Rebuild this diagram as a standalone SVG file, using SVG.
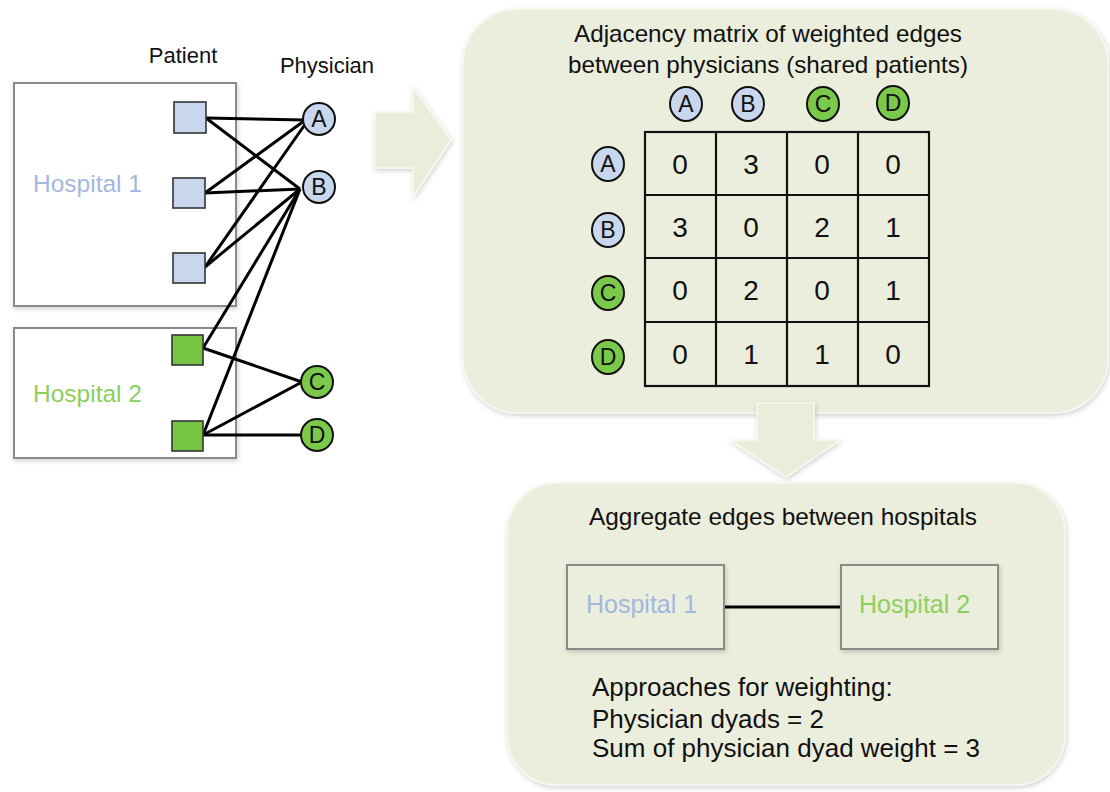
<svg xmlns="http://www.w3.org/2000/svg" width="1110" height="792" viewBox="0 0 1110 792">
<defs>
  <filter id="sh" x="-10%" y="-10%" width="120%" height="120%">
    <feDropShadow dx="1" dy="2" stdDeviation="2.5" flood-color="#000" flood-opacity="0.18"/>
  </filter>
</defs>
<style>
  text { font-family: "Liberation Sans", Arial, sans-serif; fill: #111; }
  .panel { fill: #ebeedc; stroke: #f7f8f0; stroke-width: 1.5; filter: url(#sh); }
  .arrow { fill: #e9edd9; stroke: #f8f9f2; stroke-width: 1.5; filter: url(#sh); }
  .hbox { fill: #fff; stroke: #8a8a8a; stroke-width: 2; filter: url(#sh); }
  .hbox2 { fill: #ebeedc; stroke: #8a8a8a; stroke-width: 2; filter: url(#sh); }
  .sqb { fill: #c8d6ee; stroke: #333; stroke-width: 1.6; }
  .sqg { fill: #76c442; stroke: #333; stroke-width: 1.6; }
  .cb { fill: #c8d6ee; stroke: #111; stroke-width: 2; }
  .cg { fill: #7ac94a; stroke: #111; stroke-width: 2; }
  .lbl { font-size: 23px; text-anchor: middle; }
  .edge { stroke: #000; stroke-width: 3; fill: none; }
  .grid { stroke: #111; stroke-width: 2.2; fill: none; }
  .num { font-size: 28px; text-anchor: middle; }
  .h1 { fill: #a4b7df; }
  .h2 { fill: #8dcf5b; }
</style>

<!-- Left: hospital boxes -->
<g id="hospital1">
  <rect class="hbox" x="14" y="83" width="222" height="223"/>
  <text class="h1" x="33" y="192" font-size="24.5">Hospital 1</text>
</g>
<g id="hospital2">
  <rect class="hbox" x="14" y="328" width="222" height="130"/>
  <text class="h2" x="33" y="402" font-size="24.5">Hospital 2</text>
</g>
<g id="headers">
  <text x="183" y="63" font-size="22" text-anchor="middle">Patient</text>
  <text x="327" y="73" font-size="22" text-anchor="middle">Physician</text>
</g>

<!-- Connectors -->
<g id="connectors">
  <line class="edge" x1="206" y1="118" x2="304" y2="120"/>
  <line class="edge" x1="206" y1="118" x2="300" y2="189"/>
  <line class="edge" x1="205" y1="193" x2="304" y2="121"/>
  <line class="edge" x1="205" y1="193" x2="300" y2="189"/>
  <line class="edge" x1="205" y1="267" x2="306" y2="123"/>
  <line class="edge" x1="205" y1="267" x2="300" y2="189"/>
  <line class="edge" x1="203" y1="348" x2="300" y2="189"/>
  <line class="edge" x1="203" y1="348" x2="302" y2="382"/>
  <line class="edge" x1="203" y1="435" x2="300" y2="189"/>
  <line class="edge" x1="203" y1="435" x2="302" y2="382"/>
  <line class="edge" x1="203" y1="435" x2="302" y2="435"/>
</g>

<!-- Patients -->
<g id="patient1"><rect class="sqb" x="174" y="102" width="32" height="31"/></g>
<g id="patient2"><rect class="sqb" x="173" y="178" width="32" height="30"/></g>
<g id="patient3"><rect class="sqb" x="173" y="253" width="32" height="30"/></g>
<g id="patient4"><rect class="sqg" x="172" y="335" width="31" height="30"/></g>
<g id="patient5"><rect class="sqg" x="172" y="421" width="31" height="30"/></g>

<!-- Physicians -->
<g id="physA"><circle class="cb" cx="319" cy="119" r="16"/><text class="lbl" x="319" y="127">A</text></g>
<g id="physB"><circle class="cb" cx="319" cy="187" r="16"/><text class="lbl" x="319" y="195">B</text></g>
<g id="physC"><circle class="cg" cx="317" cy="382" r="16"/><text class="lbl" x="317" y="390">C</text></g>
<g id="physD"><circle class="cg" cx="317" cy="435" r="16"/><text class="lbl" x="317" y="443">D</text></g>

<!-- Right arrow -->
<g id="arrow-right">
  <polygon class="arrow" points="375,112 413,112 413,87 451,140 413,197 413,168 375,168"/>
</g>

<!-- Matrix panel -->
<g id="matrix-panel">
  <rect class="panel" x="463" y="9" width="645" height="404" rx="55" ry="55"/>
  <text x="768" y="42" font-size="24" text-anchor="middle" textLength="388" lengthAdjust="spacingAndGlyphs">Adjacency matrix of weighted edges</text>
  <text x="768" y="73" font-size="24" text-anchor="middle" textLength="400" lengthAdjust="spacingAndGlyphs">between physicians (shared patients)</text>

  <ellipse class="cb" cx="686" cy="104" rx="16" ry="17"/><text class="lbl" x="686" y="112">A</text>
  <ellipse class="cb" cx="748" cy="104" rx="16" ry="17"/><text class="lbl" x="748" y="112">B</text>
  <ellipse class="cg" cx="823" cy="104" rx="16" ry="17"/><text class="lbl" x="823" y="112">C</text>
  <ellipse class="cg" cx="893" cy="103" rx="16" ry="17"/><text class="lbl" x="893" y="111">D</text>

  <ellipse class="cb" cx="608" cy="164" rx="16" ry="17"/><text class="lbl" x="608" y="172">A</text>
  <ellipse class="cb" cx="608" cy="230" rx="16" ry="17"/><text class="lbl" x="608" y="238">B</text>
  <ellipse class="cg" cx="608" cy="293" rx="16" ry="17"/><text class="lbl" x="608" y="301">C</text>
  <ellipse class="cg" cx="608" cy="357" rx="16" ry="17"/><text class="lbl" x="608" y="365">D</text>

  <rect class="grid" x="645" y="132" width="284" height="254"/>
  <path class="grid" d="M716,132V386M787,132V386M858,132V386M645,195H929M645,258H929M645,322H929"/>

  <text class="num" x="680" y="174">0</text><text class="num" x="751" y="174">3</text><text class="num" x="822" y="174">0</text><text class="num" x="893" y="174">0</text>
  <text class="num" x="680" y="237">3</text><text class="num" x="751" y="237">0</text><text class="num" x="822" y="237">2</text><text class="num" x="893" y="237">1</text>
  <text class="num" x="680" y="300">0</text><text class="num" x="751" y="300">2</text><text class="num" x="822" y="300">0</text><text class="num" x="893" y="300">1</text>
  <text class="num" x="680" y="364">0</text><text class="num" x="751" y="364">1</text><text class="num" x="822" y="364">1</text><text class="num" x="893" y="364">0</text>
</g>

<!-- Down arrow -->
<g id="arrow-down">
  <polygon class="arrow" points="757,403 814,403 814,440 840,440 786,477 730,440 757,440"/>
</g>

<!-- Aggregate panel -->
<g id="aggregate-panel">
  <rect class="panel" x="507" y="483" width="558" height="302" rx="50" ry="50"/>
  <text x="589" y="525" font-size="24" textLength="388" lengthAdjust="spacingAndGlyphs">Aggregate edges between hospitals</text>
  <line x1="724" y1="607" x2="841" y2="607" stroke="#000" stroke-width="3.2"/>
  <rect class="hbox2" x="567" y="565" width="157" height="84"/>
  <text class="h1" x="586" y="613" font-size="25">Hospital 1</text>
  <rect class="hbox2" x="841" y="565" width="157" height="84"/>
  <text class="h2" x="859" y="613" font-size="25">Hospital 2</text>
  <text x="592" y="696" font-size="26">Approaches for weighting:</text>
  <text x="592" y="728" font-size="26">Physician dyads = 2</text>
  <text x="592" y="757" font-size="26">Sum of physician dyad weight = 3</text>
</g>
</svg>
